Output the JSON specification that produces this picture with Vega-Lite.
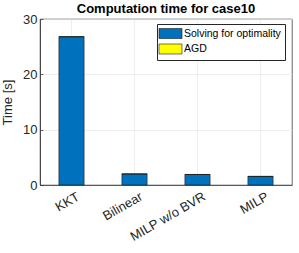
{
  "$schema": "https://vega.github.io/schema/vega-lite/v6.json",
  "autosize": "none",
  "width": 252,
  "height": 166,
  "padding": {"left": 40, "top": 19, "right": 7, "bottom": 68},
  "background": "white",
  "config": {
    "font": "Liberation Sans",
    "view": {"stroke": "#262626", "strokeWidth": 0.7},
    "axis": {
      "domainColor": "#262626",
      "domainWidth": 0.7,
      "tickColor": "#262626",
      "tickSize": -3,
      "tickWidth": 0.7,
      "labelColor": "#262626",
      "titleColor": "#262626",
      "gridColor": "#e6e6e6",
      "gridWidth": 0.7,
      "labelFont": "Liberation Sans",
      "titleFont": "Liberation Sans"
    }
  },
  "title": {
    "text": "Computation time for case10",
    "fontSize": 13,
    "fontWeight": "bold",
    "color": "#000000",
    "anchor": "middle",
    "offset": -3,
    "font": "Liberation Sans"
  },
  "data": {
    "values": [
      {"method": "KKT", "series": "Solving for optimality", "time": 26.8},
      {"method": "KKT", "series": "AGD", "time": 0},
      {"method": "Bilinear", "series": "Solving for optimality", "time": 2.0},
      {"method": "Bilinear", "series": "AGD", "time": 0},
      {"method": "MILP w/o BVR", "series": "Solving for optimality", "time": 1.9},
      {"method": "MILP w/o BVR", "series": "AGD", "time": 0},
      {"method": "MILP", "series": "Solving for optimality", "time": 1.55},
      {"method": "MILP", "series": "AGD", "time": 0}
    ]
  },
  "mark": {"type": "bar", "stroke": "#1a1a1a", "strokeWidth": 0.6},
  "encoding": {
    "x": {
      "field": "method",
      "type": "nominal",
      "sort": ["KKT", "Bilinear", "MILP w/o BVR", "MILP"],
      "scale": {"paddingInner": 0.6, "paddingOuter": 0.3},
      "axis": {
        "title": null,
        "labelAngle": -30,
        "labelAlign": "right",
        "labelBaseline": "top",
        "labelFontSize": 13,
        "labelPadding": 8,
        "labelOffset": 4,
        "grid": true,
        "bandPosition": 0.5
      }
    },
    "y": {
      "field": "time",
      "type": "quantitative",
      "stack": "zero",
      "scale": {"domain": [0, 30], "nice": false},
      "axis": {
        "title": "Time [s]",
        "titleFontSize": 13,
        "titleFontWeight": "normal",
        "titlePadding": 8,
        "values": [0, 10, 20, 30],
        "labelFontSize": 13,
        "labelPadding": 6,
        "grid": true
      }
    },
    "color": {
      "field": "series",
      "type": "nominal",
      "sort": ["Solving for optimality", "AGD"],
      "scale": {"domain": ["Solving for optimality", "AGD"], "range": ["#0072BD", "#FFFF00"]},
      "legend": {
        "title": null,
        "orient": "none",
        "legendX": 117,
        "legendY": 5,
        "fillColor": "white",
        "strokeColor": "#262626",
        "padding": 4,
        "symbolType": "M-2.3,-1H2.3V1H-2.3Z",
        "symbolSize": 100,
        "symbolOffset": 4,
        "symbolStrokeColor": "#1a1a1a",
        "symbolStrokeWidth": 0.6,
        "symbolOpacity": 1,
        "labelFontSize": 10.5,
        "labelColor": "#000000",
        "labelOffset": 8,
        "rowPadding": 2.5,
        "labelLimit": 200
      }
    },
    "order": {"field": "series", "sort": "descending"}
  }
}
